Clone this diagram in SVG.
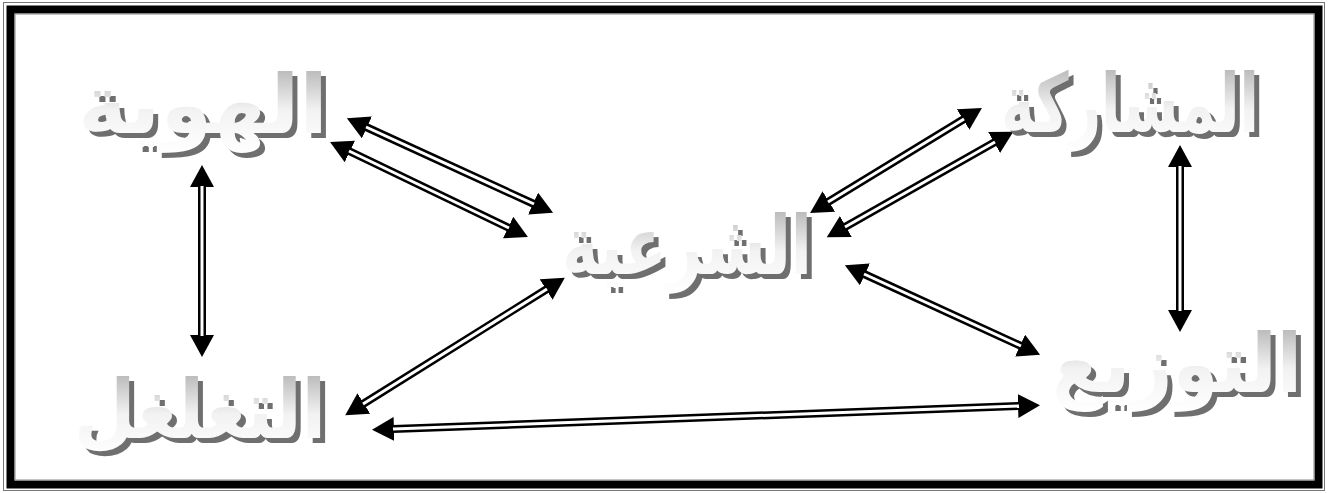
<svg xmlns="http://www.w3.org/2000/svg" width="1330" height="493" viewBox="0 0 1330 493">
<style>
.lbl{font-family:"DejaVu Sans",sans-serif;font-weight:bold;font-size:82px;text-anchor:middle}
.sh{fill:#6f6f6f}
.fg{fill:url(#g)}
.ob{fill:none;stroke:#000;stroke-width:8;marker-start:url(#ah);marker-end:url(#ah)}
.iw{fill:none;stroke:#fff;stroke-width:3}
</style>
<defs>
<linearGradient id="g" x1="0" y1="0" x2="0" y2="1">
<stop offset="0" stop-color="#a9a9a9"/>
<stop offset="0.55" stop-color="#f2f2f2"/>
<stop offset="1" stop-color="#ffffff"/>
</linearGradient>
<marker id="ah" markerUnits="userSpaceOnUse" markerWidth="24" markerHeight="24" refX="1" refY="12" orient="auto-start-reverse" viewBox="0 0 24 24">
<path d="M0,0 L22,12 L0,24 Z" fill="#000"/>
</marker>
</defs>
<rect x="0" y="0" width="1330" height="493" fill="#fff"/>
<rect x="3.5" y="2.5" width="1321" height="488" fill="none" stroke="#777" stroke-width="1"/>
<rect x="10.5" y="9.5" width="1308" height="475" fill="none" stroke="#000" stroke-width="8"/>
<rect x="15" y="14" width="1299" height="466" fill="none" stroke="#888" stroke-width="1"/>

<g id="connectors">
<line class="ob" x1="202" y1="186" x2="202" y2="336"/><line class="iw" x1="202" y1="186" x2="202" y2="336"/>
<line class="ob" x1="1180" y1="166" x2="1180" y2="311"/><line class="iw" x1="1180" y1="166" x2="1180" y2="311"/>
<line class="ob" x1="366" y1="127" x2="534" y2="204"/><line class="iw" x1="366" y1="127" x2="534" y2="204"/>
<line class="ob" x1="349" y1="151" x2="509" y2="228"/><line class="iw" x1="349" y1="151" x2="509" y2="228"/>
<line class="ob" x1="964" y1="119" x2="828" y2="202"/><line class="iw" x1="964" y1="119" x2="828" y2="202"/>
<line class="ob" x1="995" y1="142" x2="845" y2="227"/><line class="iw" x1="995" y1="142" x2="845" y2="227"/>
<line class="ob" x1="864" y1="274" x2="1021" y2="346"/><line class="iw" x1="864" y1="274" x2="1021" y2="346"/>
<line class="ob" x1="547" y1="289" x2="363" y2="404"/><line class="iw" x1="547" y1="289" x2="363" y2="404"/>
<line class="ob" x1="393" y1="429" x2="1019" y2="406"/><line class="iw" x1="393" y1="429" x2="1019" y2="406"/>
</g>

<g id="n-hawiya">
<text class="lbl sh" x="208" y="138" textLength="250" lengthAdjust="spacingAndGlyphs">الهوية</text>
<text class="lbl fg" x="203" y="133" textLength="250" lengthAdjust="spacingAndGlyphs">الهوية</text>
</g>
<g id="n-shariya">
<text class="lbl sh" x="692" y="279" textLength="250" lengthAdjust="spacingAndGlyphs">الشرعية</text>
<text class="lbl fg" x="687" y="274" textLength="250" lengthAdjust="spacingAndGlyphs">الشرعية</text>
</g>
<g id="n-musharaka">
<text class="lbl sh" x="1135" y="137" textLength="258" lengthAdjust="spacingAndGlyphs">المشاركة</text>
<text class="lbl fg" x="1130" y="132" textLength="258" lengthAdjust="spacingAndGlyphs">المشاركة</text>
</g>
<g id="n-tawzi">
<text class="lbl sh" x="1182" y="397" textLength="250" lengthAdjust="spacingAndGlyphs">التوزيع</text>
<text class="lbl fg" x="1177" y="392" textLength="250" lengthAdjust="spacingAndGlyphs">التوزيع</text>
</g>
<g id="n-taghalghul">
<text class="lbl sh" x="205" y="443" textLength="252" lengthAdjust="spacingAndGlyphs">التغلغل</text>
<text class="lbl fg" x="200" y="438" textLength="252" lengthAdjust="spacingAndGlyphs">التغلغل</text>
</g>
</svg>
